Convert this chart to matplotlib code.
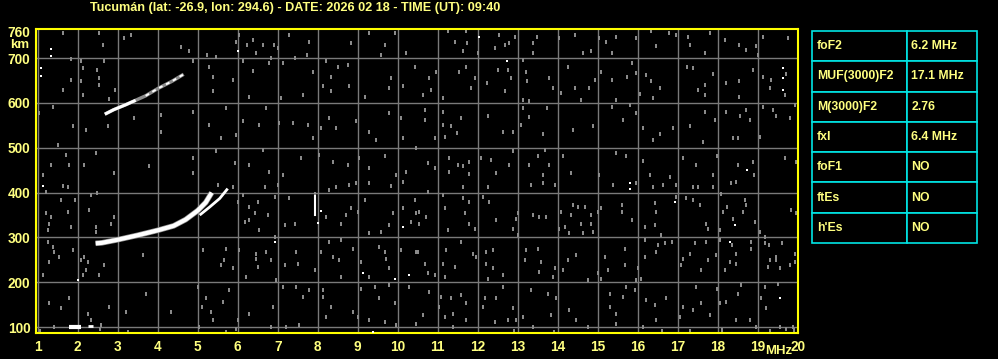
import numpy as np
import matplotlib.pyplot as plt

title = "Tucumán (lat: -26.9, lon: 294.6) - DATE: 2026 02 18 - TIME (UT): 09:40"

# ionogram traces (frequency MHz, virtual height km)
f2_o_f = [2.45, 2.6, 3.0, 3.5, 4.0, 4.4, 4.7, 5.0, 5.2, 5.35]
f2_o_h = [287, 288, 295, 305, 316, 326, 340, 360, 378, 400]
f2_x_f = [5.05, 5.3, 5.55, 5.75]
f2_x_h = [350, 368, 387, 409]
hop2_f = [2.68, 2.9, 3.2, 3.45, 3.7, 4.0, 4.35, 4.65]
hop2_h = [575, 585, 596, 606, 616, 632, 648, 664]
e_f1, e_h1 = [1.79, 2.08], [101, 101]
e_f2, e_h2 = [2.25, 2.39], [103, 103]
spike_f, spike_h = [7.94, 7.94], [350, 392]

# background interference dots
noise_ul = [(1.63,756),(2.54,756),(3.17,745),(3.34,752),(2.63,730),(1.84,698),(2.09,693),(2.67,693),
            (2.13,679),(2.49,674),(2.53,655),(2.53,641),(1.84,652),(2.09,648),(1.63,629),(2.13,618),
            (2.78,609),(2.94,629),(4.59,724),(4.78,716),(4.88,693),(5.23,707),(5.46,702),(5.29,681),
            (5.38,659),(5.88,652),(5.38,626),(5.96,737),(6.04,752),(6.23,730),(6.38,741),(6.46,711),
            (6.64,730),(6.90,730),(7.00,722),(6.83,700),(6.13,693),(6.38,672),(6.79,689),(7.13,689),
            (7.29,752),(7.42,700),(7.78,737),(7.73,707),(7.88,670),(8.21,693),(8.50,681),(8.75,685),
            (8.34,659),(8.34,626),(8.13,637),(8.79,637),(8.84,734),(9.29,756),(9.67,730),(9.92,756),
            (9.59,707),(9.84,655),(10.21,711),(10.42,681),(10.13,637),(9.79,633),(9.17,614),(7.09,612),
            (7.63,618),(6.29,614),(5.71,588),(6.71,588),(6.13,559),(6.54,551),(7.03,555),(7.38,555),
            (7.75,551),(7.88,521),(8.09,544),(8.46,544),(8.29,566),(8.96,559),(9.29,536),(9.46,518),
            (9.79,577),(10.09,566),(10.13,521),(5.96,529),(5.59,521),(5.29,551),(4.88,581),(4.09,574),
            (4.09,536),(3.42,566),(2.75,548),(2.21,540),(1.88,548),(1.38,592),(1.04,577),(1.50,507),
            (2.46,488),(1.71,484),(1.79,462),(1.34,462),(1.13,440),(2.17,462),(2.92,443),(3.79,460),
            (4.88,477),(4.88,443),(5.46,492),(5.94,466),(6.29,462),(6.63,495),(6.79,447),(7.13,440),
            (7.59,477),(8.04,484),(8.38,469),(8.75,462),(9.04,478),(9.29,455),(9.67,481),(9.96,440),
            (10.21,447),(10.46,499)]
noise_ur = [(11.25,761),(11.71,760),(11.73,734),(11.42,737),(11.63,716),(12.00,711),(12.42,722),
            (12.54,752),(12.67,730),(12.79,734),(12.94,748),(13.39,734),(13.38,711),(13.48,748),
            (14.04,745),(14.42,752),(14.63,711),(14.84,716),(15.04,745),(15.21,737),(15.34,711),
            (15.46,748),(15.96,745),(16.33,761),(16.46,726),(16.78,756),(16.96,752),(17.25,748),
            (17.29,730),(17.67,711),(17.79,756),(18.17,741),(18.53,730),(18.71,719),(18.96,726),
            (19.13,748),(19.75,745),(19.00,707),(10.96,670),(10.79,655),(10.63,618),(10.84,629),
            (11.13,611),(11.54,670),(11.71,681),(11.92,655),(11.84,633),(12.23,644),(12.50,674),
            (12.75,674),(12.83,655),(12.67,626),(13.13,696),(13.21,670),(13.24,648),(13.28,605),
            (13.13,607),(13.79,655),(13.88,633),(14.09,622),(14.25,681),(14.42,633),(14.59,607),
            (14.79,633),(14.94,652),(15.09,670),(15.34,652),(15.46,607),(15.73,659),(15.84,689),
            (15.94,667),(16.04,620),(16.21,663),(16.33,648),(16.38,611),(16.54,633),(17.23,681),
            (17.38,678),(17.50,629),(17.67,641),(17.67,618),(17.88,664),(18.21,644),(18.53,648),
            (18.53,614),(18.88,674),(19.13,659),(19.33,652),(19.67,618),(19.71,664),(19.29,633),
            (10.67,585),(10.67,562),(11.13,581),(11.13,551),(11.34,548),(11.59,566),(11.17,525),
            (11.48,533),(10.92,522),(12.25,570),(12.63,536),(12.88,536),(13.13,588),(13.08,551),
            (13.29,568),(13.63,530),(13.73,588),(14.38,540),(14.88,548),(15.34,592),(15.63,562),
            (15.79,596),(15.94,577),(16.13,544),(16.38,518),(16.54,530),(16.88,544),(17.29,548),
            (17.68,581),(17.92,562),(18.21,581),(18.54,570),(18.71,585),(18.79,562),(18.38,521),
            (18.50,523),(19.04,525),(19.13,592),(19.38,585),(19.46,570),(19.79,566),(19.92,596),
            (17.63,514),(10.75,466),(10.92,455),(11.29,477),(11.28,447),(11.50,462),(11.63,460),
            (11.79,469),(11.79,441),(12.08,477),(12.33,473),(12.46,443),(12.79,462),(12.88,492),
            (13.29,462),(13.50,481),(13.67,495),(13.79,462),(13.63,440),(14.13,481),(14.33,443),
            (15.03,440),(15.44,488),(15.71,481),(16.13,471),(16.29,440),(16.79,436),(17.13,477),
            (17.46,462),(17.88,440),(17.98,481),(18.50,462),(18.88,469),(18.89,440),(19.67,477),
            (19.96,469)]
noise_ll = [(1.21,402),(1.63,415),(1.75,413),(2.33,395),(2.49,400),(1.59,383),(1.94,383),(1.21,354),
            (1.34,346),(1.29,331),(1.25,316),(1.75,357),(2.29,361),(2.92,346),(2.83,331),(2.46,324),
            (2.46,313),(1.84,324),(1.25,290),(1.38,279),(1.42,268),(1.54,257),(1.29,246),(1.13,216),
            (1.88,272),(2.08,249),(2.17,257),(2.25,246),(2.21,227),(2.13,216),(2.54,216),(2.67,238),
            (3.63,261),(3.71,175),(2.79,145),(2.25,130),(1.79,164),(1.59,142),(1.29,153),(2.33,115),
            (2.58,104),(3.21,134),(4.34,134),(5.00,190),(5.21,164),(5.11,145),(5.78,182),(5.63,156),
            (5.38,115),(5.34,134),(5.13,272),(5.71,275),(5.88,231),(5.67,249),(5.59,238),(6.21,212),
            (6.46,253),(6.71,268),(6.50,235),(6.84,249),(6.46,264),(6.04,272),(5.88,413),(5.50,417),
            (6.13,395),(6.00,380),(6.29,369),(6.42,354),(6.50,380),(6.67,413),(7.00,417),(6.92,391),
            (7.29,387),(6.75,350),(6.29,339),(6.17,335),(6.54,316),(6.92,301),(7.17,328),(7.42,331),
            (7.46,268),(7.50,242),(7.17,238),(6.96,205),(7.13,190),(7.46,190),(7.63,168),(7.79,182),
            (8.09,268),(7.92,227),(8.13,182),(8.13,168),(8.21,123),(8.34,145),(6.88,145),(6.84,101),
            (6.29,130),(6.00,115),(5.96,97),(5.04,101),(5.71,90),(7.21,101),(7.54,104),(7.92,398),
            (8.29,406),(8.46,413),(8.79,417),(8.96,421),(9.29,422),(9.84,415),(10.13,424),(8.21,346),
            (8.59,331),(8.71,350),(8.84,365),(9.00,357),(9.17,383),(9.29,309),(9.59,313),(9.79,328),
            (9.88,354),(10.34,335),(10.46,354),(10.13,365),(10.42,383),(8.29,290),(8.59,294),
            (8.38,257),(8.54,249),(8.88,275),(9.09,246),(9.29,212),(9.54,279),(9.67,268),(9.71,253),
            (9.79,231),(10.09,272),(10.46,268),(8.59,212),(9.09,186),(9.42,190),(9.79,194),(9.54,164),
            (9.92,153),(10.29,190),(8.88,134),(9.00,123),(9.29,115),(9.67,112),(9.96,104),(10.46,108),
            (1.05,92),(3.25,90),(1.4,100),(2.55,96)]
noise_lr = [(10.75,402),(11.13,395),(11.63,413),(12.25,413),(12.13,391),(12.29,380),(11.63,387),
            (11.79,380),(11.17,365),(10.54,357),(10.71,346),(10.54,331),(11.67,354),(11.79,331),
            (11.92,320),(11.25,316),(12.46,339),(12.96,342),(13.00,354),(12.88,320),(13.00,305),
            (13.38,350),(13.54,346),(13.71,346),(13.33,417),(13.63,421),(13.92,417),(14.08,357),
            (14.04,320),(14.17,324),(14.38,372),(14.50,369),(14.67,369),(14.34,350),(14.58,331),
            (14.84,350),(14.84,331),(14.88,313),(14.29,309),(14.63,309),(15.00,357),(15.09,365),
            (15.38,417),(15.59,372),(15.59,357),(15.96,421),(16.38,413),(16.63,417),(15.84,339),
            (16.17,324),(16.42,376),(16.44,357),(16.42,328),(16.58,305),(16.94,391),(16.96,417),
            (17.21,387),(17.38,383),(17.38,413),(17.50,413),(17.54,372),(17.88,413),(18.08,398),
            (18.33,421),(18.46,424),(18.23,368),(18.13,357),(18.67,383),(18.71,372),(18.63,357),
            (18.38,342),(18.04,316),(17.71,331),(17.75,320),(18.92,335),(19.04,313),(19.17,301),
            (19.83,361),(19.96,354),(18.34,283),(18.83,275),(18.83,290),(19.17,287),(19.28,283),
            (19.29,249),(19.46,257),(19.46,249),(19.59,287),(19.92,264),(19.92,246),(19.79,238),
            (19.54,231),(19.25,235),(18.46,264),(18.29,246),(18.46,242),(18.17,227),(17.96,261),
            (17.75,249),(17.58,227),(18.04,294),(17.71,290),(17.42,287),(17.13,253),(17.08,238),
            (17.29,264),(16.84,290),(16.67,287),(16.50,283),(16.46,268),(16.17,294),(16.17,257),
            (16.00,231),(16.08,208),(15.96,205),(15.67,275),(15.67,238),(15.17,257),(15.00,220),
            (15.09,208),(15.25,227),(14.75,205),(14.46,261),(14.25,249),(14.13,227),(13.92,231),
            (13.88,212),(13.58,246),(13.54,223),(13.50,275),(13.21,272),(13.17,249),(12.38,272),
            (12.21,268),(12.21,242),(12.38,231),(12.25,208),(12.63,216),(11.96,257),(11.88,264),
            (11.59,290),(11.42,235),(11.21,272),(11.13,242),(10.92,216),(10.75,220),(10.67,242),
            (10.50,268),(11.17,212),(10.79,179),(11.08,168),(11.33,164),(11.58,171),(11.71,153),
            (10.63,127),(11.04,145),(11.17,123),(11.38,130),(11.38,101),(11.71,115),(12.17,164),
            (12.13,145),(12.46,164),(12.63,190),(12.88,142),(12.75,115),(12.42,112),(12.96,115),
            (13.13,123),(13.33,182),(13.38,101),(13.75,175),(13.96,164),(13.84,127),(14.29,138),
            (14.46,115),(14.75,101),(15.29,175),(15.29,145),(15.46,130),(15.63,168),(15.71,190),
            (15.46,108),(15.92,182),(16.13,101),(16.21,160),(16.46,115),(16.42,149),(16.71,164),
            (17.04,123),(17.13,145),(17.38,138),(17.46,190),(17.58,153),(17.79,127),(17.98,186),
            (18.04,153),(18.21,157),(18.50,175),(18.58,194),(18.46,115),(18.79,115),(18.96,101),
            (19.08,164),(19.17,190),(19.21,142),(19.50,197),(19.54,101),(19.71,97),(19.88,101),
            (12.9,92),(13.9,90),(16.6,92),(17.3,91),(18.1,93),(19.3,92),(19.9,93)]
sparks = [(1.34,721),(1.34,704),(1.09,679),(1.09,661),(6.00,715),(12.03,748),(12.73,693),(19.63,679),
          (19.63,655),(19.63,629),(18.73,451),(1.13,415),(2.00,205),(6.92,290),(8.09,360),(8.00,333),
          (10.13,324),(9.13,221),(9.93,207),(10.28,216),(9.38,90),(15.79,421),(15.79,409),(16.92,380),
          (18.42,328),(18.29,290),(19.54,164)]

table_rows = [["foF2", "6.2 MHz"], ["MUF(3000)F2", "17.1 MHz"], ["M(3000)F2", "2.76"],
              ["fxI", "6.4 MHz"], ["foF1", "NO"], ["ftEs", "NO"], ["h'Es", "NO"]]

freq_ticks = list(range(1, 21))
height_ticks = [100, 200, 300, 400, 500, 600, 700]

W, H = 998, 359
txt = '#ffff80'
font = 'Liberation Sans'
dash = [(-0.5, -1), (0.5, -1), (0.5, 1), (-0.5, 1)]  # small upright pixel dash

fig = plt.figure(figsize=(W / 100, H / 100), dpi=100, facecolor='black')
ax = fig.add_axes([36 / W, 26 / H, 762 / W, 304 / H])
ax.set_facecolor('black')
ax.set_xlim(0.96, 20.0)
ax.set_ylim(87, 765)

for f in freq_ticks:
    ax.axvline(f, color='#7a7a7a', lw=1, zorder=1)
for h in height_ticks:
    ax.axhline(h, color='#7a7a7a', lw=1, zorder=1)

for pts in [noise_ul, noise_ur, noise_ll, noise_lr]:
    a = np.array(pts)
    ax.plot(a[:, 0], a[:, 1], ls='none', marker=dash, ms=2.9, mew=0,
            color='#8a8a8a', zorder=2)
s = np.array(sparks)
ax.plot(s[:, 0], s[:, 1], ls='none', marker='s', ms=1.7, mew=0, color='white', zorder=3)

# traces
ax.plot(f2_o_f, f2_o_h, color='#909090', lw=4.0, zorder=3, solid_capstyle='butt')
ax.plot(f2_o_f, f2_o_h, color='white', lw=3.0, zorder=4, solid_capstyle='butt')
ax.plot(f2_x_f, f2_x_h, color='white', lw=2.0, zorder=4, solid_capstyle='butt')
ax.plot(hop2_f, hop2_h, color='#8c8c8c', lw=2.5, zorder=3, solid_capstyle='butt')
ax.plot(hop2_f[:4], hop2_h[:4], color='white', lw=2.2, zorder=4, solid_capstyle='butt')
ax.plot(hop2_f[4:], hop2_h[4:], color='white', lw=1.4, ls=(0, (2, 2)), zorder=4)
ax.plot(e_f1, e_h1, color='white', lw=3.0, zorder=4, solid_capstyle='butt')
ax.plot(e_f2, e_h2, color='white', lw=2.0, zorder=4, solid_capstyle='butt')
ax.plot(spike_f, spike_h, color='white', lw=1.5, zorder=4)

for sp in ax.spines.values():
    sp.set_color('#ffff00')
    sp.set_linewidth(1.5)
ax.tick_params(length=0, colors=txt, pad=5)
ax.set_xticks(freq_ticks)
ax.set_xticklabels([str(f) for f in freq_ticks], fontsize=9.8, fontweight='bold',
                   family=font, color=txt)
ax.set_yticks(height_ticks + [760])
ax.set_yticklabels([str(h) for h in height_ticks] + ['760'], fontsize=9.8,
                   fontweight='bold', family=font, color=txt)
ax.tick_params(axis='y', pad=4)

fig.text(20 / W, 1 - 45 / H, 'km', ha='center', va='center', fontsize=9.5,
         fontweight='bold', family=font, color=txt)
fig.text(779 / W, 1 - 351 / H, 'MHz', ha='center', va='center', fontsize=9.5,
         fontweight='bold', family=font, color=txt)
fig.text(90 / W, 1 - 8 / H, title, ha='left', va='center', fontsize=9.1,
         fontweight='bold', family=font, color=txt)

# parameter table
tax = fig.add_axes([812 / W, 1 - 243 / H, 165 / W, 212 / H])
tax.axis('off')
tb = tax.table(cellText=table_rows, colWidths=[95 / 165, 70 / 165],
               cellLoc='left', bbox=[0, 0, 1, 1])
tb.auto_set_font_size(False)
for (r, c), cell in tb.get_celld().items():
    cell.set_facecolor('black')
    cell.set_edgecolor('#00e5e5')
    cell.set_linewidth(1.2)
    cell.PAD = 0.05 if c == 0 else 0.06
    cell.get_text().set_color(txt)
    cell.get_text().set_fontsize(8.8)
    cell.get_text().set_fontweight('bold')
    cell.get_text().set_family(font)

fig.savefig('out.png', dpi=100, facecolor='black')
